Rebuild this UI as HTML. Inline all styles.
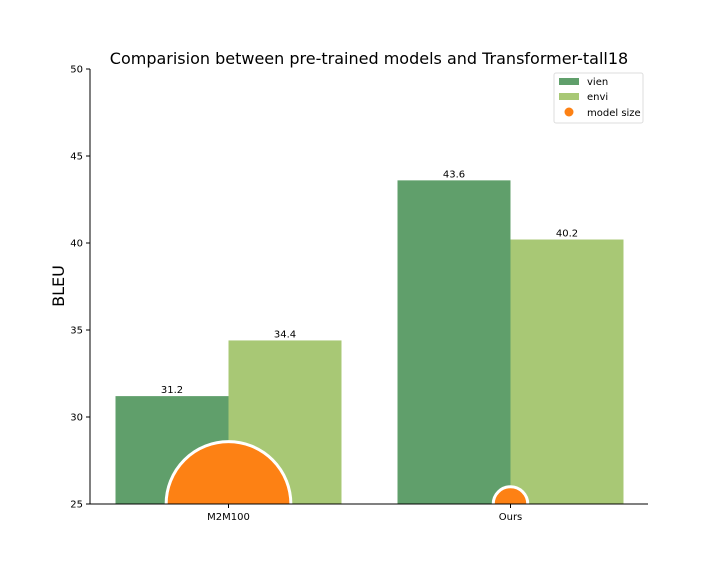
<!DOCTYPE html>
<html><head><meta charset="utf-8"><style>body{margin:0;background:#fff}svg{display:block;font-family:"DejaVu Sans","Liberation Sans",sans-serif}</style></head>
<body>
<svg id="c" width="720" height="576"></svg>
<script>
const categories=["M2M100","Ours"];
const vienValues=[31.2,43.6];
const enviValues=[34.4,40.2];
const modelSizes=[418,32];
const yTicks=[25,30,35,40,45,50];
const NS="http://www.w3.org/2000/svg";
const svg=document.getElementById('c');
const L=90,R=648,T=69,B=504,yMin=25,yMax=50;
const y=v=>B-(v-yMin)/(yMax-yMin)*(B-T);
const xc=i=>228.5+i*282;
const bw=113;
function mk(t,a,p){const e=document.createElementNS(NS,t);for(const k in a)e.setAttribute(k,a[k]);(p||svg).appendChild(e);return e;}
const defs=mk('defs',{});const cp=mk('clipPath',{id:'clip'},defs);mk('rect',{x:L,y:T,width:R-L,height:B-T},cp);
const g=mk('g',{'clip-path':'url(#clip)'});
categories.forEach((c,i)=>{
 let b=mk('rect',{x:xc(i)-bw,y:y(vienValues[i]),width:bw,height:B-y(vienValues[i]),fill:'#609f6b'},g);
 
 
 b=mk('rect',{x:xc(i),y:y(enviValues[i]),width:bw,height:B-y(enviValues[i]),fill:'#a8c875'},g);
 
 
 let t=mk('text',{x:xc(i)-bw/2,y:y(vienValues[i])-3,'font-size':10,'text-anchor':'middle'});t.textContent=vienValues[i];
 
 
 t=mk('text',{x:xc(i)+bw/2,y:y(enviValues[i])-3,'font-size':10,'text-anchor':'middle'});t.textContent=enviValues[i];
 
 
});
categories.forEach((c,i)=>{
 const ci=mk('circle',{cx:xc(i),cy:B,r:3.05*Math.sqrt(modelSizes[i]),fill:'#fd8114',stroke:'#fff','stroke-width':3},g);
 
 
});
mk('line',{x1:L,y1:T,x2:L,y2:B,stroke:'#000','stroke-width':1});
mk('line',{x1:L,y1:B,x2:R,y2:B,stroke:'#000','stroke-width':1});
yTicks.forEach(v=>{mk('line',{x1:L-4,x2:L,y1:y(v),y2:y(v),stroke:'#000'});
 const t=mk('text',{x:L-7,y:y(v)+3.5,'font-size':10,'text-anchor':'end'});t.textContent=v;
 
 });
categories.forEach((c,i)=>{mk('line',{x1:xc(i),x2:xc(i),y1:B,y2:B+4,stroke:'#000'});
 const t=mk('text',{x:xc(i),y:B+16,'font-size':10,'text-anchor':'middle'});t.textContent=c;
 
 });
let t=mk('text',{x:369,y:64,'font-size':16,'text-anchor':'middle'});t.textContent="Comparision between pre-trained models and Transformer-tall18";


t=mk('text',{x:0,y:0,'font-size':16,'text-anchor':'middle',transform:'translate(64,286) rotate(-90)'});t.textContent="BLEU";


const lg=mk('g',{});


mk('rect',{x:554,y:73,width:89,height:50,fill:'#fff',stroke:'#ddd',rx:2},lg);
mk('rect',{x:559,y:78,width:20,height:7,fill:'#609f6b'},lg);
mk('rect',{x:559,y:93,width:20,height:7,fill:'#a8c875'},lg);
mk('circle',{cx:569,cy:112,r:4.5,fill:'#fd8114'},lg);
[["vien",85],["envi",100],["model size",116]].forEach(([s,yy])=>{const e=mk('text',{x:587,y:yy,'font-size':10},lg);e.textContent=s;});
</script>
</body></html>
